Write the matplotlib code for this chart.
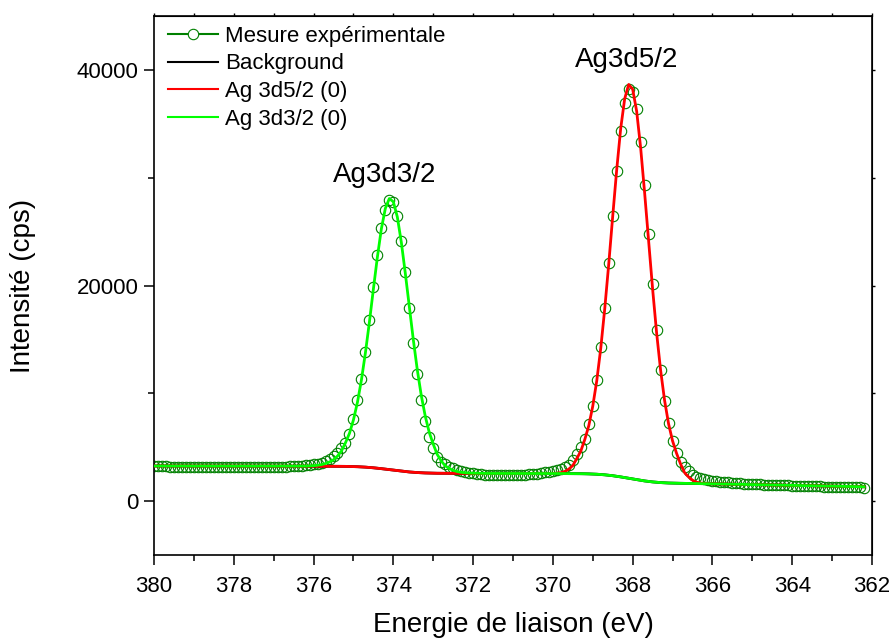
import numpy as np
import matplotlib
matplotlib.use('Agg')
import matplotlib.pyplot as plt
from matplotlib.lines import Line2D
from matplotlib.ticker import MultipleLocator

plt.rcParams['font.family'] = 'Liberation Sans'

# binding energy grid of the spectrum (0.1 eV steps, 380.0 -> 362.2 eV)
energy = np.round(np.linspace(380.0, 362.2, 179), 1)

# measured intensity (cps), one row per eV
measured = [
    3230, 3220, 3210, 3210, 3200, 3190, 3190, 3180, 3170, 3170,
    3160, 3160, 3150, 3150, 3140, 3140, 3130, 3130, 3130, 3120,
    3120, 3120, 3120, 3120, 3130, 3130, 3140, 3140, 3150, 3160,
    3170, 3180, 3190, 3200, 3220, 3240, 3260, 3290, 3320, 3360,
    3410, 3470, 3560, 3700, 3920, 4200, 4500, 4880, 5380, 6250,
    7650, 9350, 11300, 13850, 16800, 19900, 22850, 25300, 27050, 27900,
    27700, 26450, 24100, 21250, 17950, 14650, 11750, 9350, 7450, 5950,
    4880, 4100, 3640, 3400, 3200, 3050, 2930, 2820, 2720, 2640,
    2570, 2520, 2480, 2450, 2430, 2410, 2400, 2390, 2390, 2390,
    2400, 2410, 2430, 2450, 2480, 2510, 2550, 2600, 2660, 2730,
    2800, 2880, 2980, 3120, 3380, 3800, 4350, 4980, 5780, 7120,
    8850, 11200, 14300, 17950, 22100, 26450, 30600, 34300, 36950, 38200,
    37950, 36350, 33350, 29350, 24750, 20150, 15900, 12150, 9250, 7200,
    5550, 4450, 3660, 3180, 2760, 2450, 2260, 2130, 2030, 1960,
    1900, 1850, 1810, 1770, 1740, 1710, 1680, 1660, 1630, 1610,
    1590, 1570, 1550, 1530, 1520, 1500, 1490, 1470, 1460, 1450,
    1440, 1420, 1410, 1400, 1390, 1380, 1370, 1360, 1350, 1340,
    1330, 1320, 1310, 1300, 1300, 1290, 1280, 1270, 1260,
]

# Shirley type background
background = [
    3258, 3257, 3257, 3256, 3256, 3255, 3255, 3254, 3254, 3253,
    3253, 3252, 3252, 3251, 3251, 3250, 3250, 3249, 3249, 3248,
    3248, 3247, 3247, 3246, 3246, 3245, 3245, 3244, 3244, 3243,
    3243, 3242, 3242, 3241, 3241, 3240, 3240, 3239, 3239, 3238,
    3238, 3237, 3236, 3235, 3234, 3232, 3230, 3226, 3221, 3213,
    3203, 3190, 3172, 3150, 3122, 3090, 3052, 3010, 2965, 2918,
    2870, 2824, 2780, 2739, 2703, 2673, 2648, 2627, 2611, 2599,
    2590, 2583, 2579, 2575, 2574, 2572, 2571, 2569, 2569, 2568,
    2568, 2567, 2567, 2566, 2566, 2565, 2565, 2564, 2564, 2563,
    2563, 2562, 2562, 2561, 2561, 2560, 2560, 2559, 2559, 2558,
    2558, 2557, 2556, 2554, 2553, 2551, 2548, 2542, 2536, 2525,
    2513, 2493, 2469, 2438, 2400, 2355, 2303, 2245, 2183, 2118,
    2052, 1988, 1928, 1871, 1822, 1780, 1746, 1717, 1695, 1678,
    1666, 1657, 1651, 1646, 1645, 1642, 1634, 1626, 1618, 1611,
    1604, 1597, 1590, 1582, 1575, 1568, 1561, 1554, 1546, 1539,
    1532, 1525, 1518, 1510, 1503, 1496, 1489, 1482, 1474, 1467,
    1460, 1453, 1446, 1438, 1431, 1424, 1417, 1410, 1402, 1395,
    1388, 1381, 1374, 1366, 1359, 1352, 1345, 1338, 1330,
]

# fitted components above background (376.2 -> 371.9 eV and 370.0 -> 366.2 eV)
peak_3d32 = [0] * 38 + [
    10, 30, 50, 90, 150, 250, 400, 600, 950, 1420,
    2190, 3070, 4330, 5970, 8060, 10610, 13480, 16580, 19580, 22250,
    24190, 25150, 24900, 23540, 21240, 18400, 15350, 12320, 9550, 7180,
    5270, 3780, 2700, 1750, 1150, 700, 450, 280, 170, 100,
    60, 30, 20, 10,
] + [0] * 97
peak_3d52 = [0] * 100 + [
    10, 30, 80, 200, 420, 750, 1400, 2100, 3180, 4470,
    6300, 8670, 11710, 15410, 19580, 24080, 28440, 32320, 35140, 36530,
    36160, 34180, 30850, 26720, 22290, 17900, 13870, 10430, 7650, 5490,
    3920, 2780, 1800, 1000, 600, 300, 120, 50, 20,
] + [0] * 40

legend_labels = ['Mesure expérimentale', 'Background', 'Ag 3d5/2 (0)', 'Ag 3d3/2 (0)']
peak_names = ['Ag3d3/2', 'Ag3d5/2']

fit_3d52 = np.array(background) + np.array(peak_3d52)
fit_3d32 = np.array(background) + np.array(peak_3d32)

fig = plt.figure(figsize=(8.93, 6.4), dpi=100)
ax = fig.add_axes([154 / 893, 85 / 640, 718 / 893, 539 / 640])

ax.plot(energy, measured, ls='none', marker='o', ms=7.5, mfc='none', mec='#008000', mew=0.8, zorder=2)
ax.plot(energy, background, color='black', lw=2, zorder=3)
ax.plot(energy, fit_3d52, color='#ff0000', lw=2, zorder=4)
ax.plot(energy, fit_3d32, color='#00ff00', lw=2, zorder=5)

# peak names
ax.text(374.21, 29600, peak_names[0], ha='center', va='baseline', fontsize=20)
ax.text(368.15, 40300, peak_names[1], ha='center', va='baseline', fontsize=20)

ax.set_xlim(380, 362)
ax.set_ylim(-5000, 45000)
ax.xaxis.set_major_locator(MultipleLocator(2))
ax.xaxis.set_minor_locator(MultipleLocator(1))
ax.yaxis.set_major_locator(MultipleLocator(20000))
ax.yaxis.set_minor_locator(MultipleLocator(10000))
ax.tick_params(which='major', direction='out', length=7, width=1.1, labelsize=16)
ax.tick_params(which='minor', direction='out', length=4, width=1.1)
ax.tick_params(axis='x', which='major', pad=8)
ax.tick_params(axis='y', which='major', pad=4)
for s in ax.spines.values():
    s.set_linewidth(1.2)

# short ticks on top and right
top = ax.secondary_xaxis('top')
top.set_xticks(np.arange(362, 381, 1))
top.tick_params(direction='out', length=2, width=1, labeltop=False)
right = ax.secondary_yaxis('right')
right.set_yticks([0, 10000, 20000, 30000, 40000])
right.tick_params(direction='out', length=2, width=1, labelright=False)

ax.set_xlabel('Energie de liaison (eV)', fontsize=20)
ax.xaxis.set_label_coords(0.5, -0.13)
ax.xaxis.label.set_va('center')
ax.set_ylabel('Intensité (cps)', fontsize=20)
ax.yaxis.set_label_coords(-0.1825, 0.5)
ax.yaxis.label.set_va('center')

handles = [
    Line2D([], [], color='#008000', lw=1.5, marker='o', ms=7.5, mfc='white', mec='#008000', mew=0.8),
    Line2D([], [], color='black', lw=1.5),
    Line2D([], [], color='#ff0000', lw=1.5),
    Line2D([], [], color='#00ff00', lw=1.5),
]
ax.legend(handles, legend_labels, loc='upper left', bbox_to_anchor=(0.0195, 0.982),
          frameon=False, fontsize=16, handlelength=2.25, handletextpad=0.3,
          labelspacing=0.3, borderpad=0, borderaxespad=0)

fig.savefig('out.png', dpi=100)
